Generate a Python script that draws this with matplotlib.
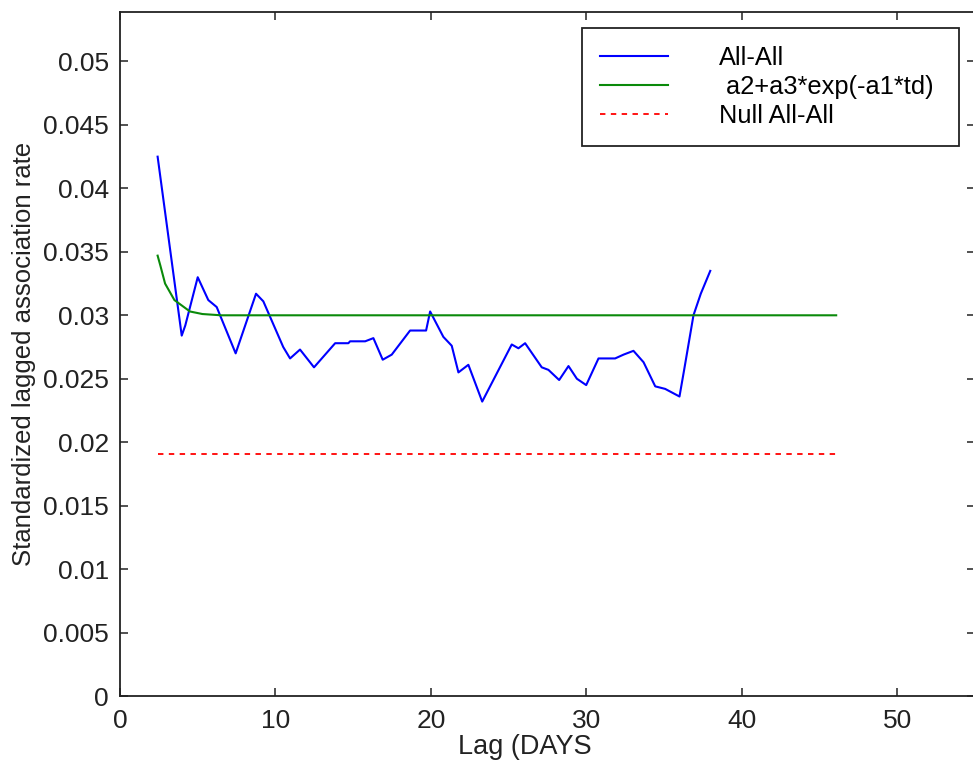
import matplotlib
matplotlib.use("Agg")
import matplotlib.pyplot as plt

plt.rcParams['font.family'] = ['Liberation Sans', 'DejaVu Sans']

# observed lagged association rate (All-All)
lag_days = [2.42, 3.97, 4.2, 5.0, 5.68, 6.22, 7.44, 8.75, 9.22, 10.5, 10.94,
            11.58, 12.48, 13.84, 14.69, 14.8, 15.77, 16.3, 16.9, 17.48, 18.66,
            19.69, 19.95, 20.8, 21.34, 21.77, 22.41, 23.3, 25.2, 25.63, 26.06,
            27.13, 27.56, 28.25, 28.85, 29.39, 29.99, 30.78, 31.85, 32.39,
            33.03, 33.68, 34.43, 35.07, 35.99, 36.29, 36.89, 37.36, 37.97]
rate_all = [0.0425, 0.0284, 0.0292, 0.0330, 0.0312, 0.03065, 0.0270, 0.0317,
            0.0311, 0.0275, 0.0266, 0.0273, 0.0259, 0.0278, 0.0278, 0.02795,
            0.02795, 0.0282, 0.0265, 0.0269, 0.0288, 0.0288, 0.0303, 0.0283,
            0.0276, 0.0255, 0.0261, 0.0232, 0.0277, 0.0274, 0.0278, 0.0259,
            0.0257, 0.0249, 0.0260, 0.0250, 0.0245, 0.0266, 0.0266, 0.0269,
            0.0272, 0.0263, 0.0244, 0.0242, 0.0236, 0.0257, 0.0300, 0.0317,
            0.0335]

# fitted model a2+a3*exp(-a1*td)
fit_days = [2.42, 2.6, 2.9, 3.5, 4.5, 5.3, 6.5, 10.0, 46.07]
fit_rate = [0.0347, 0.0339, 0.0325, 0.0312, 0.0303, 0.0301, 0.0300, 0.0300,
            0.0300]

# null association rate
null_days = [2.42, 46.07]
null_rate = [0.01906, 0.01906]

fig = plt.figure(figsize=(9.73, 7.69), dpi=100)
ax = fig.add_axes([120 / 973, 73 / 769, 855 / 973, 684 / 769])

ax.plot(lag_days, rate_all, color='#0000ff', lw=1.5, label='All-All')
ax.plot(fit_days, fit_rate, color='#0a8a0a', lw=1.5,
        label=' a2+a3*exp(-a1*td) ')
ax.plot(null_days, null_rate, color='#ff0000', lw=1.3, ls=(0, (3, 3)),
        label='Null All-All')

ax.set_xlim(0, 55)
ax.set_ylim(0, 0.0539)
ax.set_xticks([0, 10, 20, 30, 40, 50])
ax.set_yticks([0, 0.005, 0.01, 0.015, 0.02, 0.025, 0.03, 0.035, 0.04,
               0.045, 0.05])
ax.set_yticklabels(['0', '0.005', '0.01', '0.015', '0.02', '0.025', '0.03',
                    '0.035', '0.04', '0.045', '0.05'])
ax.tick_params(direction='in', length=6, width=1.1, labelsize=19,
               top=True, right=True, colors='#222222', labelcolor='#222222')
ax.tick_params(axis='x', pad=9)
ax.tick_params(axis='y', pad=8)
for s in ax.spines.values():
    s.set_linewidth(1.3)
    s.set_color('#222222')

ax.set_xlabel('Lag (DAYS', fontsize=19.5, color='#222222')
ax.set_ylabel('Standardized lagged association rate', fontsize=18.5,
              color='#222222')
ax.xaxis.set_label_coords(0.474, -0.055)
ax.yaxis.set_label_coords(-0.098, 0.5)

leg = ax.legend(loc='upper left', bbox_to_anchor=(582 / 973, 1 - 28 / 769),
                bbox_transform=fig.transFigure, fontsize=18.3, frameon=True,
                fancybox=False, framealpha=1, edgecolor='#222222',
                handlelength=2.7, handletextpad=2.0, labelspacing=0.2,
                borderpad=0.7, borderaxespad=0)
leg.get_frame().set_linewidth(1.3)

fig.savefig('out.png', dpi=100)
